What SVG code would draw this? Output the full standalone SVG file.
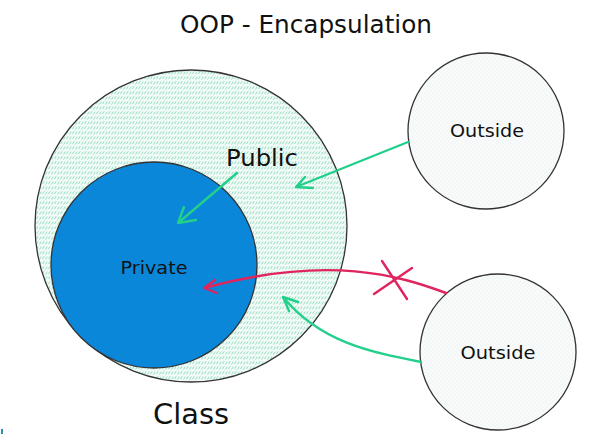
<svg xmlns="http://www.w3.org/2000/svg" width="599" height="437" viewBox="0 0 599 437">
<style>
.lbl{font-family:"DejaVu Sans","Liberation Sans",sans-serif;fill:#111;}
.node{stroke:#333;stroke-width:1.3;}
.g{fill:none;stroke:#22d08c;stroke-width:2.4;stroke-linecap:round;}
.r{fill:none;stroke:#e0245e;stroke-width:2.4;stroke-linecap:round;}
</style>
<defs>
<pattern id="dash" width="6" height="5" patternUnits="userSpaceOnUse">
<rect width="6" height="5" fill="#f0faf6"/>
<path d="M0.5,4 L2.2,1.2 M3.5,4.5 L5.2,1.7" stroke="#7cd5b0" stroke-width="0.8"/>
</pattern>
<pattern id="dots" width="4" height="4" patternUnits="userSpaceOnUse">
<rect width="4" height="4" fill="#f9fbfb"/>
<circle cx="1" cy="1" r="0.45" fill="#c6dcde"/>
<circle cx="3" cy="3" r="0.45" fill="#d2e4e4"/>
</pattern>
</defs>
<rect width="599" height="437" fill="#ffffff"/>
<text class="lbl" x="306" y="33" font-size="25" text-anchor="middle" textLength="252" lengthAdjust="spacingAndGlyphs">OOP - Encapsulation</text>
<g id="class">
<circle class="node" cx="191" cy="226" r="156" fill="url(#dash)"/>
<text class="lbl" x="191" y="424" font-size="29" text-anchor="middle" textLength="76" lengthAdjust="spacingAndGlyphs">Class</text>
</g>
<g id="public">
<text class="lbl" x="262" y="166" font-size="23" text-anchor="middle" textLength="72" lengthAdjust="spacingAndGlyphs">Public</text>
</g>
<g id="private">
<circle class="node" cx="154" cy="265" r="103" fill="#0b87d9"/>
<text class="lbl" x="154" y="274" font-size="17" text-anchor="middle" textLength="67" lengthAdjust="spacingAndGlyphs">Private</text>
</g>
<g id="outside1">
<circle class="node" cx="486" cy="131" r="78" fill="url(#dots)"/>
<text class="lbl" x="487" y="137" font-size="17" text-anchor="middle" textLength="74" lengthAdjust="spacingAndGlyphs">Outside</text>
</g>
<g id="outside2">
<circle class="node" cx="498" cy="352" r="78" fill="url(#dots)"/>
<text class="lbl" x="498" y="359" font-size="17" text-anchor="middle" textLength="75" lengthAdjust="spacingAndGlyphs">Outside</text>
</g>
<g id="connectors">
<path class="g" d="M408,142 L296,187 M296,187 L313,188 M296,187 L305,177"/>
<path class="g" d="M237,173 L178,223 M178,223 L196,220 M178,223 L184,207"/>
<path class="r" d="M446,293 C400,276 330,254 204,288 M204,288 L217,293 M204,288 L215,280"/>
<path class="r" d="M374,294 L412,268 M382,261 L407,299"/>
<path class="g" d="M421,362 C370,352 320,342 283,297 M283,297 L289,311 M283,297 L298,302"/>
</g>
<rect x="1" y="429" width="2" height="5" fill="#2b8fb0"/>
</svg>
